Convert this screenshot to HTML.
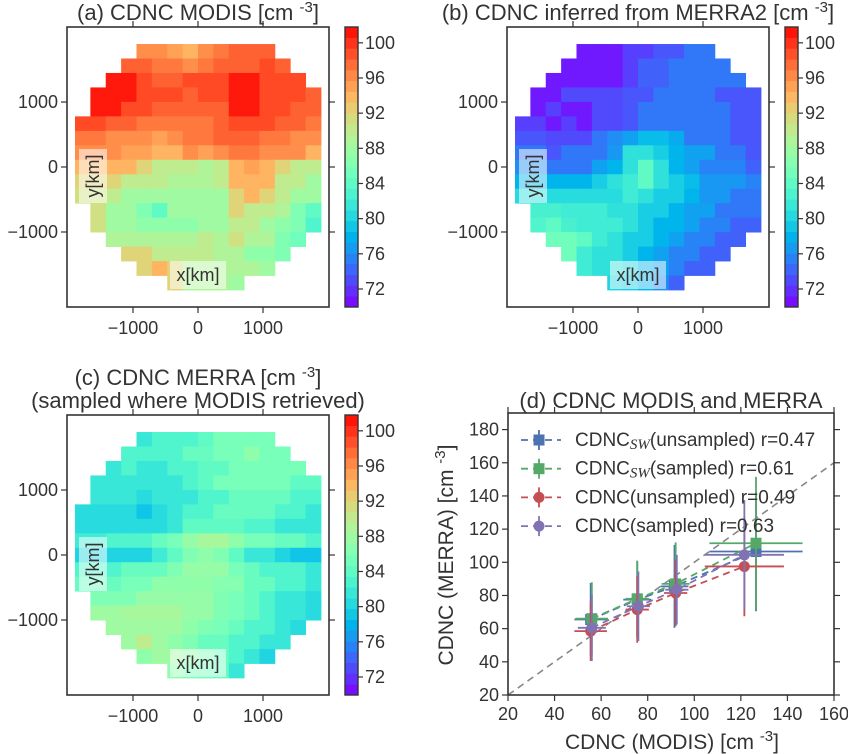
<!DOCTYPE html>
<html><head><meta charset="utf-8"><style>
html,body{margin:0;padding:0;background:#fff}
svg{display:block;font-family:"Liberation Sans",sans-serif}
</style></head><body>
<svg id="fig" width="848" height="754" viewBox="0 0 848 754" xmlns="http://www.w3.org/2000/svg"></svg>
<script>
// ---------- DATA ----------
const rowStart = [4,3,2,1,1,0,0,0,0,0,0,1,1,2,3,4,6];
const mapA = [
[96,96,95,94,96,97,98,98,98],
[98,98,97,97,96,97,98,98,98,99,98],
[101,101,99,98,98,99,99,99,101,101,99,99,99],
[101,101,101,99,99,99,98,99,99,101,101,99,99,99,98],
[101,101,99,99,98,98,98,98,98,101,101,99,99,98,98],
[99,99,98,98,97,97,97,97,97,98,99,99,99,98,98,97],
[97,97,96,96,96,95,96,97,97,98,98,98,97,97,96,96],
[96,96,96,95,95,94,94,96,95,96,97,97,96,96,96,94],
[94,94,94,94,92,90,90,90,89,90,94,95,94,92,90,90],
[92,92,92,90,90,90,89,89,89,90,94,94,94,90,90,88],
[91,91,90,88,88,88,88,88,88,88,92,94,92,90,88,88],
[91,88,88,86,84,88,88,88,88,92,90,90,89,86,84],
[91,88,88,87,87,87,87,88,88,90,90,88,87,86,83],
[89,89,89,89,89,89,90,89,91,89,89,86,85],
[92,92,90,90,90,90,89,89,87,87,86],
[92,94,92,89,89,89,89,89,88],
[92,89,89,89,88]];
const mapB = [
[71,71,71,72.5,72.5,73.5,73.5,75,75],
[71,71,71,71,72.5,74,74,75,75,75,75],
[71,71,71,71,71,72.5,74,74,75,75,75,75,75],
[71,71,73,73,73,73,73.5,73.5,75,75,75,75,73.5,73.5,73.5],
[71,72.5,71,71,73,73,73.5,75,75,75,75,75,75,73.5,73.5],
[72.5,72.5,71,72.5,71,73,73,73.5,75,75,75,75,75,75,73.5,73.5],
[73.5,73.5,73,73,73,75,76,77,78.5,78.5,77.5,75,75,75,73.5,73.5],
[75,75,73.5,75,75,75,76.5,81,81,79.5,78,77,77,75,75,73.5],
[76,76,75,75,75,77,78,81,84,81,78,77,75.5,75.5,75.5,74],
[78,78,78,78,78,79.5,81,82,84,81,79.5,78.5,76.5,76.5,76.5,75.5],
[80.5,80.5,80.5,80.5,80.5,80.5,80.5,82,81,79.5,79.5,78,76.5,76.5,75,75],
[82.5,82.5,82,82,82,81,81,79.5,79.5,78,77,77,75,75,75],
[83,84,82.5,82,82,82,81,79.5,78,78,77,75.5,75.5,74,74],
[85,85,84,82,81,79.5,79.5,78,77,75.5,75.5,74,74],
[85,82,81,81,79.5,78,77,75.5,75.5,74,74],
[82,81,81,80,78,77,75.5,74,74],
[80,79.5,78,76,74]];
const mapC = [
[81.5,83,83,83,84,85.5,85.5,85.5,85.5],
[83,83,83,83,84.5,84.5,85.5,85.5,87,85.5,85.5],
[81.5,83,81.5,81.5,83,83,84,84,85.5,85.5,85.5,85.5,85.5],
[81.5,81.5,81.5,81.5,81.5,81.5,83,84,85.5,85.5,85.5,85.5,85.5,84,84],
[81.5,81.5,81.5,80.5,81.5,81.5,81.5,83,83,84.5,84.5,84.5,84.5,83,83],
[80.5,80.5,80.5,80.5,79,80.5,81.5,83,83,84.5,84.5,84.5,84.5,83,83,81.5],
[80.5,80.5,80.5,80.5,80.5,80.5,81.5,84,84,84,84,83,83,81.5,81.5,81.5],
[82,82,83,83,83,84.5,85.5,87.5,88.5,88.5,87,85.5,85.5,84.5,84.5,83],
[80,80,80,80,80,82,84,86,87,86,84,81.5,81.5,80,79,79],
[83,83,83,84.5,84.5,84.5,86,87.5,87.5,87.5,85.5,84.5,83,83,83,81.5],
[84.5,84.5,84.5,85.5,85.5,87,87,87,87,86.5,86.5,84.5,84.5,83,83,81.5],
[86,86,86,87.5,87.5,87.5,87.5,87.5,86,85.5,84.5,83,81.5,81.5,80.5],
[88,88,88.5,88.5,88.5,88.5,87.5,87.5,86,85.5,84.5,83,81.5,81.5,80.5],
[88,88,88,88,88,87,86,85.5,84.5,83,83,81.5,80.5],
[88,90,88,87,86,84.5,84.5,83,83,81.5,81.5],
[87,88,88,87,86,84.5,83,81.5,80],
[87,85.5,85,84.5,81.5]];
const mapTicks = [-1000,0,1000];
const mapTickLabels = ["\u22121000","0","1000"];
const cbTicks = [100,96,92,88,84,80,76,72];

// panel (d)
const dXTicks = [20,40,60,80,100,120,140,160];
const dYTicks = [20,40,60,80,100,120,140,160,180];
const swUnsX = [55.5,75.5,91.5,126.5], swUnsY = [65.5,77.5,85.5,106.5], swUnsXe = [7,6,6,20], swUnsYe = [22,23,25,36];
const swSmpX = [56,75.5,92,126.5], swSmpY = [66,78,87,111.5], swSmpXe = [7,5,6,20], swSmpYe = [22,23,25,40];
const unsX = [55.5,75.5,92,121.5], unsY = [58.5,71.5,81.5,97.5], unsXe = [7,5,5,17], unsYe = [18,20,20,30];
const smpX = [56,76,92.5,121.5], smpY = [60.5,73.5,83.5,104.5], smpXe = [6,5,5,17], smpYe = [20,21,21,33];
const legendLabels = ["(unsampled) r=0.47","(sampled) r=0.61","CDNC(unsampled) r=0.49","CDNC(sampled) r=0.63"];

// ---------- HELPERS ----------
const NS="http://www.w3.org/2000/svg";
const svg=document.getElementById('fig');
function mk(tag,attrs,parent){const e=document.createElementNS(NS,tag);for(const k in attrs)e.setAttribute(k,attrs[k]);(parent||svg).appendChild(e);return e;}
function rainbow(v){let t=(v-70)/32;t=Math.max(0,Math.min(1,t));
 const r=Math.min(1,Math.abs(2*t-0.5)),g=Math.sin(Math.PI*t),b=Math.cos(Math.PI*t/2);
 return `rgb(${Math.round(r*255)},${Math.round(g*255)},${Math.round(b*255)})`;}
const TXT="#333";
const TF=18; // tick font

function mapPanel(name,left,top,right,bottom,data,cbx,titleLines,titleY){
 const g=mk('g',{});
 
 
 const xs=v=>left+(v+2015)/4030*(right-left);
 const ys=v=>top+(2154-v)/4308*(bottom-top);
 const x0=-1892,dx=236.5,y0=1892,dy=222.6;
 data.forEach((row,r)=>{row.forEach((val,i)=>{const c=rowStart[r]+i;
   const cell=mk('rect',{x:xs(x0+c*dx),y:ys(y0-r*dy),width:xs(x0+(c+1)*dx)-xs(x0+c*dx)+0.4,height:ys(y0-(r+1)*dy)-ys(y0-r*dy)+0.4,fill:rainbow(val)},g);
   
   
 });});
 const fr=mk('rect',{x:left,y:top,width:right-left,height:bottom-top,fill:'none',stroke:'#333','stroke-width':1.6},g);
 
 
 mapTicks.forEach((t,i)=>{
  const X=xs(t),Y=ys(t);
  mk('line',{x1:X,x2:X,y1:bottom,y2:bottom+6,stroke:'#333','stroke-width':1.2},g);
  mk('line',{x1:X,x2:X,y1:top,y2:top-6,stroke:'#333','stroke-width':1.2},g);
  mk('line',{x1:left,x2:left-6,y1:Y,y2:Y,stroke:'#333','stroke-width':1.2},g);
  mk('line',{x1:right,x2:right+6,y1:Y,y2:Y,stroke:'#333','stroke-width':1.2},g);
  const xl=mk('text',{x:X,y:bottom+27,'text-anchor':'middle','font-size':TF,fill:TXT},g);xl.textContent=mapTickLabels[i];
  
  
  const yl=mk('text',{x:left-9,y:Y+6,'text-anchor':'end','font-size':TF,fill:TXT},g);yl.textContent=mapTickLabels[i];
  
  
 });
 mk('rect',{x:left+12,y:ys(0)-18,width:28,height:54,fill:'#fff','fill-opacity':0.55},g);
 const yt=mk('text',{x:0,y:0,'font-size':18,fill:TXT,'text-anchor':'middle',transform:`translate(${left+32},${ys(0)+9}) rotate(-90)`},g);yt.textContent='y[km]';
 
 
 mk('rect',{x:xs(0)-28,y:bottom-46,width:56,height:28,fill:'#fff','fill-opacity':0.55},g);
 const xt=mk('text',{x:xs(0),y:bottom-26,'font-size':18,fill:TXT,'text-anchor':'middle'},g);xt.textContent='x[km]';
 
 
 const cb=mk('g',{},g);
 
 
 const vmin=69.95,vmax=101.8,n=26,cs=v=>bottom-(v-vmin)/(vmax-vmin)*(bottom-top);
 for(let k=0;k<n;k++){const a=vmin+k*(vmax-vmin)/n,b=vmin+(k+1)*(vmax-vmin)/n;
  mk('rect',{x:cbx,y:cs(b),width:13,height:cs(a)-cs(b)+0.3,fill:rainbow((a+b)/2)},cb);}
 mk('rect',{x:cbx,y:top,width:13,height:bottom-top,fill:'none',stroke:'#333','stroke-width':1.4},cb);
 cbTicks.forEach(t=>{mk('line',{x1:cbx+13,x2:cbx+18,y1:cs(t),y2:cs(t),stroke:'#333','stroke-width':1.2},cb);
  const l=mk('text',{x:cbx+20,y:cs(t)+6,'font-size':TF,fill:TXT},cb);l.textContent=t;
  
  });
 titleLines.forEach((ln,i)=>{const t=mk('text',{x:(left+right)/2,y:titleY+i*23,'text-anchor':'middle','font-size':22,fill:TXT},g);
  t.innerHTML=ln;
  
  });
}
const sup='[cm <tspan dy="-8" font-size="15">-3</tspan><tspan dy="8">]</tspan>';
mapPanel('panel-a-modis-map',67,27,329,307,mapA,345,['(a) CDNC MODIS '+sup],20);
mapPanel('panel-b-merra2-map',507,27,769,307,mapB,785,['(b) CDNC inferred from MERRA2 '+sup],20);
mapPanel('panel-c-merra-sampled-map',67,415,329,695,mapC,345,['(c) CDNC MERRA '+sup,'(sampled where MODIS retrieved)'],385);

// ---------- PANEL D ----------
const L=508,R=834,T=413,B=695;
const xd=v=>L+(v-20)/140*(R-L);
const yd=v=>B-(v-20)/170*(B-T);
const gd=mk('g',{});


mk('rect',{x:L,y:T,width:R-L,height:B-T,fill:'#fff'},gd);
const diag=mk('line',{x1:xd(20),y1:yd(20),x2:xd(160),y2:yd(160),stroke:'#888','stroke-width':1.6,'stroke-dasharray':'7,5'},gd);


const series=[
 {n:'sw-unsampled',c:'#4C72B0',m:'sq',X:swUnsX,Y:swUnsY,Xe:swUnsXe,Ye:swUnsYe},
 {n:'sw-sampled',c:'#55A868',m:'sq',X:swSmpX,Y:swSmpY,Xe:swSmpXe,Ye:swSmpYe},
 {n:'unsampled',c:'#C44E52',m:'ci',X:unsX,Y:unsY,Xe:unsXe,Ye:unsYe},
 {n:'sampled',c:'#8172B2',m:'ci',X:smpX,Y:smpY,Xe:smpXe,Ye:smpYe}];
function marker(p,kind,cx,cy,c){
 return kind==='sq'?mk('rect',{x:cx-5.5,y:cy-5.5,width:11,height:11,fill:c},p):mk('circle',{cx:cx,cy:cy,r:5.5,fill:c},p);}
series.forEach(s=>{
 const g=mk('g',{},gd);
 
 
 mk('polyline',{points:s.X.map((x,i)=>xd(x)+','+yd(s.Y[i])).join(' '),fill:'none',stroke:s.c,'stroke-width':1.8,'stroke-dasharray':'7,5'},g);
 s.X.forEach((x,i)=>{
  mk('line',{x1:xd(x-s.Xe[i]),x2:xd(x+s.Xe[i]),y1:yd(s.Y[i]),y2:yd(s.Y[i]),stroke:s.c,'stroke-width':1.8},g);
  mk('line',{x1:xd(x),x2:xd(x),y1:yd(s.Y[i]-s.Ye[i]),y2:yd(s.Y[i]+s.Ye[i]),stroke:s.c,'stroke-width':1.8},g);
  const m=marker(g,s.m,xd(x),yd(s.Y[i]),s.c);
  
  
 });
});
mk('rect',{x:L,y:T,width:R-L,height:B-T,fill:'none',stroke:'#333','stroke-width':1.6},gd);
dXTicks.forEach(t=>{const X=xd(t);
 mk('line',{x1:X,x2:X,y1:B,y2:B+6,stroke:'#333','stroke-width':1.2},gd);
 mk('line',{x1:X,x2:X,y1:T,y2:T-6,stroke:'#333','stroke-width':1.2},gd);
 const l=mk('text',{x:X,y:B+25,'text-anchor':'middle','font-size':TF,fill:TXT},gd);l.textContent=t;
 
 });
dYTicks.forEach(t=>{const Y=yd(t);
 mk('line',{x1:L,x2:L-6,y1:Y,y2:Y,stroke:'#333','stroke-width':1.2},gd);
 mk('line',{x1:R,x2:R+6,y1:Y,y2:Y,stroke:'#333','stroke-width':1.2},gd);
 const l=mk('text',{x:L-9,y:Y+6,'text-anchor':'end','font-size':TF,fill:TXT},gd);l.textContent=t;
 
 });
const lg=mk('g',{},gd);


series.forEach((s,i)=>{const Y=440+i*28.7;
 const e=mk('g',{},lg);
 
 
 mk('line',{x1:521,x2:561,y1:Y,y2:Y,stroke:s.c,'stroke-width':1.8,'stroke-dasharray':'7,5'},e);
 mk('line',{x1:539,x2:539,y1:Y-10,y2:Y+10,stroke:s.c,'stroke-width':1.8},e);
 marker(e,s.m,539,Y,s.c);
 const t=mk('text',{x:575,y:Y+6,'font-size':19,fill:TXT},e);
 if(i<2){t.innerHTML='CDNC<tspan font-family="Liberation Serif,serif" font-style="italic" font-size="15" dy="3">SW</tspan><tspan dy="-3">'+legendLabels[i]+'</tspan>';}
 else t.textContent=legendLabels[i];
});
const td=mk('text',{x:(L+R)/2,y:408,'text-anchor':'middle','font-size':22,fill:TXT});td.textContent='(d) CDNC MODIS and MERRA';


const xlab=mk('text',{x:672,y:749,'text-anchor':'middle','font-size':21,fill:TXT});xlab.innerHTML='CDNC (MODIS) '+sup;


const ylab=mk('text',{x:0,y:0,'text-anchor':'middle','font-size':21,fill:TXT,transform:'translate(453,555) rotate(-90)'});ylab.innerHTML='CDNC (MERRA) '+sup;


</script>
</body></html>
